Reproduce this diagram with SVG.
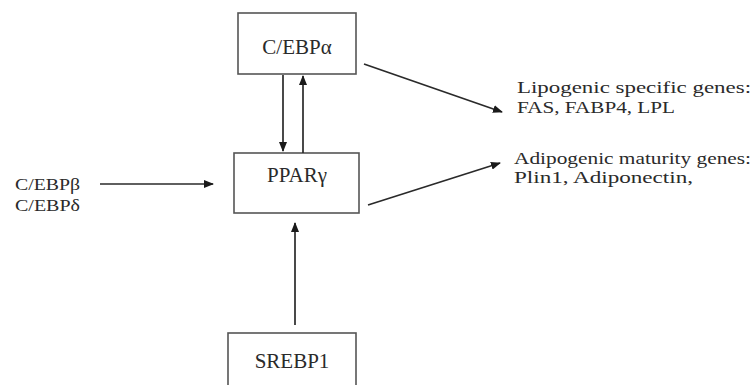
<svg xmlns="http://www.w3.org/2000/svg" width="753" height="385" viewBox="0 0 753 385">
  <style>
    .box { fill: #ffffff; stroke: #555555; stroke-width: 1.6; }
    .lbl { font-family: "Liberation Serif", "Times New Roman", serif; fill: #2a2a2a; }
    .node { font-size: 21px; text-anchor: middle; }
    .side { font-size: 16px; }
    .edge { stroke: #2a2a2a; stroke-width: 1.7; fill: none; marker-end: url(#head); }
  </style>
  <defs>
    <marker id="head" viewBox="0 0 10 8" refX="9" refY="4" markerWidth="10" markerHeight="8" markerUnits="userSpaceOnUse" orient="auto">
      <path d="M0,0 L10,4 L0,8 Z" fill="#1a1a1a"/>
    </marker>
  </defs>
  <rect width="753" height="385" fill="#ffffff"/>

  <g id="cebpa">
    <rect class="box" x="238" y="13" width="118" height="61"/>
    <text class="lbl node" x="297" y="54">C/EBPα</text>
  </g>

  <g id="pparg">
    <rect class="box" x="234" y="153" width="125" height="60"/>
    <text class="lbl node" x="297" y="182">PPARγ</text>
  </g>

  <g id="srebp1">
    <rect class="box" x="228" y="333" width="128" height="60"/>
    <text class="lbl node" x="292" y="368">SREBP1</text>
  </g>

  <g id="cebpb-d">
    <text class="lbl side" x="15" y="190" font-size="17" textLength="65" lengthAdjust="spacingAndGlyphs">C/EBPβ</text>
    <text class="lbl side" x="15" y="211" font-size="17" textLength="65" lengthAdjust="spacingAndGlyphs">C/EBPδ</text>
  </g>

  <g id="lipogenic">
    <text class="lbl side" x="517" y="93" textLength="234" lengthAdjust="spacingAndGlyphs">Lipogenic specific genes:</text>
    <text class="lbl side" x="517" y="113" textLength="158" lengthAdjust="spacingAndGlyphs">FAS, FABP4, LPL</text>
  </g>

  <g id="adipogenic">
    <text class="lbl side" x="514" y="164" textLength="237" lengthAdjust="spacingAndGlyphs">Adipogenic maturity genes:</text>
    <text class="lbl side" x="514" y="183" textLength="179" lengthAdjust="spacingAndGlyphs">Plin1, Adiponectin,</text>
  </g>

  <g id="connectors">
    <line class="edge" x1="283" y1="75" x2="283" y2="151"/>
    <line class="edge" x1="303" y1="153" x2="303" y2="76"/>
    <line class="edge" x1="100" y1="184" x2="213" y2="184"/>
    <line class="edge" x1="295" y1="325" x2="295" y2="223"/>
    <line class="edge" x1="364" y1="64" x2="502" y2="112"/>
    <line class="edge" x1="368" y1="205" x2="500" y2="163"/>
  </g>
</svg>
